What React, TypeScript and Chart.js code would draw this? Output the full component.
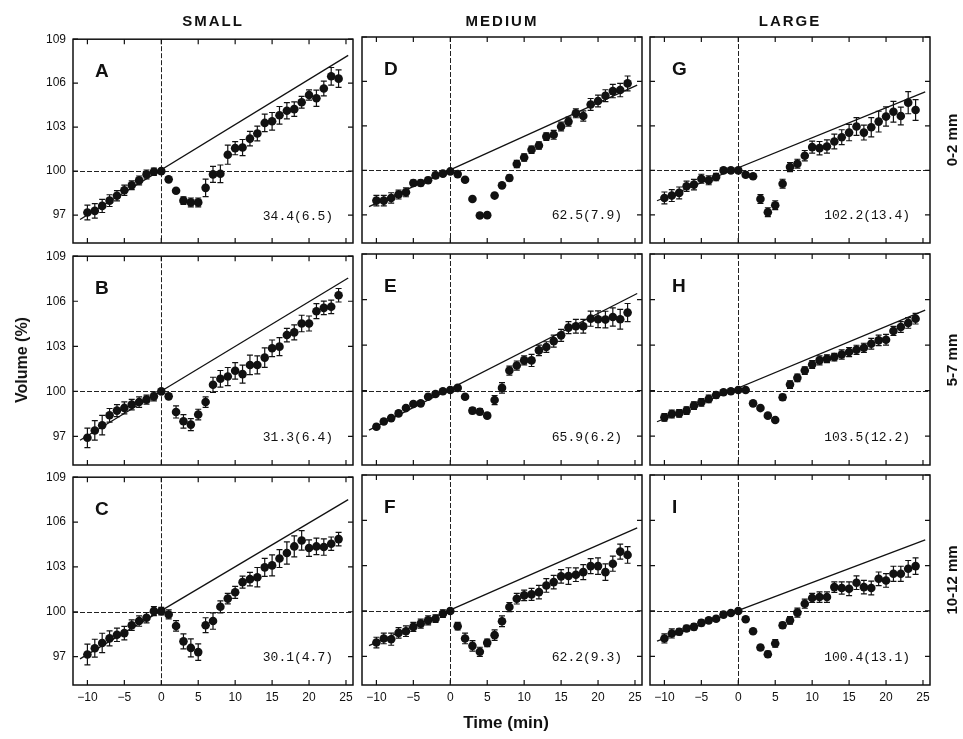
import React, { useEffect, useRef } from "react";
import { Chart, registerables } from "chart.js";

Chart.register(...registerables);

// ---------- data ----------
const minutes = [-10, -9, -8, -7, -6, -5, -4, -3, -2, -1, 0, 1, 2, 3, 4, 5, 6, 7, 8, 9, 10, 11, 12, 13, 14, 15, 16, 17, 18, 19, 20, 21, 22, 23, 24];
const xTickValues = [-10, -5, 0, 5, 10, 15, 20, 25];
const yTickValues = [97, 100, 103, 106, 109];
const sizeGroups = ["SMALL", "MEDIUM", "LARGE"];
const depthGroups = ["0-2 mm", "5-7 mm", "10-12 mm"];
const trendX = [-11, 25.3];

const volA = [97.18, 97.29, 97.63, 97.99, 98.32, 98.7, 99.04, 99.37, 99.78, 99.96, 100.0, 99.44, 98.66, 97.99, 97.87, 97.87, 98.86, 99.78, 99.82, 101.12, 101.57, 101.61, 102.22, 102.57, 103.29, 103.4, 103.81, 104.12, 104.23, 104.7, 105.19, 104.97, 105.64, 106.47, 106.31];
const errA = [0.5, 0.5, 0.45, 0.4, 0.35, 0.35, 0.3, 0.3, 0.3, 0.25, 0.1, 0.1, 0.1, 0.25, 0.3, 0.3, 0.6, 0.55, 0.6, 0.65, 0.45, 0.55, 0.5, 0.5, 0.6, 0.6, 0.6, 0.55, 0.5, 0.4, 0.35, 0.55, 0.5, 0.6, 0.6];
const trendA = [96.7, 107.9];

const volD = [97.96, 97.96, 98.14, 98.37, 98.52, 99.15, 99.15, 99.33, 99.66, 99.78, 99.93, 99.75, 99.37, 98.07, 96.96, 96.98, 98.3, 98.99, 99.49, 100.43, 100.87, 101.39, 101.68, 102.28, 102.4, 102.96, 103.29, 103.85, 103.67, 104.45, 104.68, 105.04, 105.35, 105.42, 105.87];
const errD = [0.35, 0.35, 0.35, 0.3, 0.3, 0.2, 0.2, 0.2, 0.2, 0.15, 0.1, 0.1, 0.1, 0.1, 0.15, 0.15, 0.1, 0.1, 0.2, 0.25, 0.25, 0.25, 0.25, 0.25, 0.3, 0.3, 0.3, 0.3, 0.35, 0.4, 0.4, 0.4, 0.45, 0.45, 0.5];
const trendD = [97.55, 105.75];

const volG = [98.14, 98.3, 98.48, 98.93, 99.04, 99.44, 99.33, 99.55, 100.0, 100.0, 100.0, 99.71, 99.6, 98.07, 97.18, 97.65, 99.1, 100.22, 100.45, 100.99, 101.57, 101.5, 101.61, 101.95, 102.24, 102.55, 102.96, 102.55, 102.91, 103.29, 103.63, 103.96, 103.67, 104.57, 104.07];
const errG = [0.4, 0.4, 0.4, 0.35, 0.35, 0.3, 0.3, 0.25, 0.15, 0.1, 0.1, 0.15, 0.15, 0.3, 0.3, 0.3, 0.3, 0.3, 0.3, 0.35, 0.4, 0.45, 0.45, 0.5, 0.5, 0.55, 0.6, 0.5, 0.65, 0.7, 0.65, 0.7, 0.6, 0.75, 0.7];
const trendG = [97.95, 105.3];

const volB = [96.91, 97.4, 97.75, 98.41, 98.72, 98.9, 99.12, 99.29, 99.45, 99.67, 100.0, 99.67, 98.63, 98.01, 97.79, 98.46, 99.29, 100.44, 100.84, 100.99, 101.37, 101.15, 101.76, 101.76, 102.25, 102.87, 102.98, 103.75, 103.93, 104.52, 104.52, 105.34, 105.56, 105.63, 106.4];
const errB = [0.65, 0.65, 0.65, 0.45, 0.4, 0.4, 0.35, 0.35, 0.3, 0.3, 0.1, 0.15, 0.4, 0.45, 0.4, 0.35, 0.35, 0.5, 0.55, 0.6, 0.55, 0.6, 0.65, 0.6, 0.65, 0.55, 0.6, 0.45, 0.5, 0.55, 0.5, 0.5, 0.45, 0.45, 0.45];
const trendB = [96.75, 107.55];

const volE = [97.62, 97.97, 98.19, 98.5, 98.85, 99.12, 99.16, 99.6, 99.78, 99.96, 100.04, 100.18, 99.6, 98.68, 98.61, 98.35, 99.38, 100.18, 101.32, 101.65, 101.99, 101.99, 102.65, 102.87, 103.26, 103.64, 104.15, 104.24, 104.24, 104.74, 104.7, 104.68, 104.85, 104.7, 105.14];
const errE = [0.15, 0.15, 0.15, 0.15, 0.15, 0.15, 0.15, 0.15, 0.1, 0.1, 0.1, 0.1, 0.1, 0.2, 0.2, 0.15, 0.3, 0.35, 0.3, 0.3, 0.3, 0.4, 0.35, 0.35, 0.4, 0.4, 0.4, 0.45, 0.45, 0.5, 0.55, 0.55, 0.6, 0.65, 0.6];
const trendE = [97.4, 106.4];

const volH = [98.24, 98.46, 98.5, 98.68, 99.01, 99.23, 99.45, 99.71, 99.89, 99.96, 100.04, 100.04, 99.16, 98.85, 98.35, 98.06, 99.56, 100.4, 100.84, 101.32, 101.72, 101.99, 102.1, 102.21, 102.38, 102.54, 102.69, 102.82, 103.09, 103.31, 103.35, 103.93, 104.19, 104.46, 104.74];
const errH = [0.25, 0.25, 0.25, 0.25, 0.25, 0.25, 0.25, 0.2, 0.15, 0.15, 0.1, 0.1, 0.1, 0.1, 0.1, 0.1, 0.2, 0.25, 0.25, 0.25, 0.25, 0.3, 0.25, 0.25, 0.3, 0.3, 0.3, 0.3, 0.35, 0.35, 0.35, 0.3, 0.35, 0.35, 0.35];
const trendH = [97.95, 105.3];

const volC = [97.14, 97.56, 97.91, 98.22, 98.46, 98.57, 99.1, 99.38, 99.6, 100.04, 100.04, 99.82, 99.05, 98.02, 97.58, 97.3, 99.1, 99.38, 100.33, 100.88, 101.3, 101.98, 102.18, 102.31, 102.97, 103.1, 103.56, 103.93, 104.37, 104.77, 104.26, 104.37, 104.33, 104.55, 104.86];
const errC = [0.7, 0.6, 0.65, 0.5, 0.45, 0.45, 0.35, 0.35, 0.35, 0.3, 0.25, 0.3, 0.35, 0.5, 0.6, 0.55, 0.5, 0.55, 0.4, 0.35, 0.4, 0.4, 0.45, 0.65, 0.6, 0.7, 0.6, 0.75, 0.7, 0.65, 0.55, 0.55, 0.55, 0.45, 0.45];
const trendC = [96.85, 107.5];

const volF = [97.91, 98.18, 98.13, 98.55, 98.66, 98.95, 99.16, 99.38, 99.49, 99.82, 100.0, 98.99, 98.18, 97.69, 97.3, 97.89, 98.4, 99.32, 100.26, 100.81, 101.03, 101.1, 101.25, 101.69, 101.91, 102.29, 102.31, 102.4, 102.57, 102.97, 102.97, 102.57, 103.13, 103.93, 103.71];
const errF = [0.35, 0.35, 0.4, 0.35, 0.35, 0.3, 0.3, 0.3, 0.25, 0.25, 0.15, 0.25, 0.35, 0.35, 0.3, 0.25, 0.35, 0.35, 0.3, 0.35, 0.35, 0.4, 0.45, 0.45, 0.45, 0.45, 0.55, 0.45, 0.5, 0.5, 0.55, 0.55, 0.5, 0.5, 0.55];
const trendF = [97.7, 105.5];

const volI = [98.18, 98.51, 98.62, 98.84, 98.95, 99.21, 99.38, 99.49, 99.76, 99.87, 100.0, 99.45, 98.66, 97.58, 97.14, 97.85, 99.05, 99.38, 99.89, 100.48, 100.86, 100.92, 100.92, 101.58, 101.52, 101.47, 101.87, 101.58, 101.52, 102.13, 102.02, 102.46, 102.46, 102.79, 102.97];
const errI = [0.3, 0.3, 0.2, 0.2, 0.2, 0.2, 0.15, 0.15, 0.15, 0.1, 0.1, 0.1, 0.1, 0.15, 0.2, 0.25, 0.2, 0.25, 0.3, 0.3, 0.3, 0.35, 0.35, 0.35, 0.4, 0.45, 0.45, 0.45, 0.45, 0.45, 0.45, 0.5, 0.5, 0.55, 0.55];
const trendI = [98.0, 104.7];

// row-major order: A D G / B E H / C F I
const panelLetters = ["A", "D", "G", "B", "E", "H", "C", "F", "I"];
const panelNotes = ["34.4(6.5)", "62.5(7.9)", "102.2(13.4)", "31.3(6.4)", "65.9(6.2)", "103.5(12.2)", "30.1(4.7)", "62.2(9.3)", "100.4(13.1)"];
const panelVolumes = [volA, volD, volG, volB, volE, volH, volC, volF, volI];
const panelErrors = [errA, errD, errG, errB, errE, errH, errC, errF, errI];
const panelTrends = [trendA, trendD, trendG, trendB, trendE, trendH, trendC, trendF, trendI];

// ---------- layout ----------
const COL_LEFT = [73, 362, 650];
const PANEL_W = 280;
const ROW_TOP = [37, 254, 475];
const ROW_H = [206, 211, 210];
const M_L = 60, M_T = 12, M_R = 10, M_B = 30;
const X_MIN = -11.95, X_MAX = 25.95, Y_MIN = 95.1, Y_MAX = 109;
const SANS = '"Liberation Sans", Arial, Helvetica, sans-serif';
const INK = "#111";

const decor = {
  id: "decor",
  beforeDatasetsDraw(chart: any) {
    const { ctx, chartArea: a, scales } = chart;
    const x = scales.x, y = scales.y;
    ctx.save();
    ctx.strokeStyle = "#222";
    ctx.lineWidth = 1;
    ctx.setLineDash([5, 2]);
    const x0 = Math.round(x.getPixelForValue(0)) + 0.5;
    ctx.beginPath(); ctx.moveTo(x0, a.top); ctx.lineTo(x0, a.bottom); ctx.stroke();
    const y0 = Math.round(y.getPixelForValue(100)) + 0.5;
    ctx.beginPath(); ctx.moveTo(a.left, y0); ctx.lineTo(a.right, y0); ctx.stroke();
    ctx.setLineDash([]);
    // error bars
    const ds = chart.data.datasets[0];
    const errs: number[] = ds.errors || [];
    ctx.strokeStyle = INK;
    ctx.lineWidth = 1.2;
    ds.data.forEach((pt: any, k: number) => {
      const e = errs[k];
      if (!e) return;
      const px = x.getPixelForValue(pt.x);
      const yt = y.getPixelForValue(pt.y + e);
      const yb = y.getPixelForValue(pt.y - e);
      ctx.beginPath();
      ctx.moveTo(px, yt); ctx.lineTo(px, yb);
      ctx.moveTo(px - 3, yt); ctx.lineTo(px + 3, yt);
      ctx.moveTo(px - 3, yb); ctx.lineTo(px + 3, yb);
      ctx.stroke();
    });
    ctx.restore();
  },
  afterDraw(chart: any, _args: any, opts: any) {
    const { ctx, chartArea: a, scales } = chart;
    const x = scales.x, y = scales.y;
    ctx.save();
    ctx.strokeStyle = INK;
    ctx.lineWidth = 1.5;
    ctx.strokeRect(a.left, a.top, a.right - a.left, a.bottom - a.top);
    ctx.lineWidth = 1.2;
    ctx.beginPath();
    xTickValues.forEach((v) => {
      const px = x.getPixelForValue(v);
      ctx.moveTo(px, a.bottom); ctx.lineTo(px, a.bottom - 5);
      ctx.moveTo(px, a.top); ctx.lineTo(px, a.top + 5);
    });
    yTickValues.forEach((v) => {
      const py = y.getPixelForValue(v);
      ctx.moveTo(a.left, py); ctx.lineTo(a.left + 5, py);
      ctx.moveTo(a.right, py); ctx.lineTo(a.right - 5, py);
    });
    ctx.stroke();
    ctx.fillStyle = INK;
    ctx.font = `bold 19px ${SANS}`;
    ctx.textBaseline = "middle";
    ctx.textAlign = "left";
    ctx.fillText(opts.letter, a.left + 22, a.top + 33);
    ctx.font = '13px "Liberation Mono", "DejaVu Sans Mono", monospace';
    ctx.textAlign = "right";
    ctx.fillText(opts.note, a.right - 20, y.getPixelForValue(97) + 1);
    ctx.restore();
  },
};

const fmtTick = (v: number) => (v < 0 ? "\u2212" + Math.abs(v) : String(v));

export default function App() {
  const refs = useRef<(HTMLCanvasElement | null)[]>([]);

  useEffect(() => {
    const charts = panelLetters.map((letter, i) => {
      const r = Math.floor(i / 3), c = i % 3;
      const canvas = refs.current[i] as HTMLCanvasElement;
      const vol = panelVolumes[i], err = panelErrors[i], trend = panelTrends[i];
      return new Chart(canvas, {
        type: "scatter",
        data: {
          datasets: [
            {
              data: minutes.map((m, k) => ({ x: m, y: vol[k] })),
              errors: err,
              backgroundColor: INK,
              borderColor: INK,
              borderWidth: 0,
              pointRadius: 4.3,
              pointHoverRadius: 4.3,
              showLine: false,
            } as any,
            {
              data: trendX.map((m, k) => ({ x: m, y: trend[k] })),
              showLine: true,
              borderColor: INK,
              borderWidth: 1.3,
              pointRadius: 0,
              pointHoverRadius: 0,
              fill: false,
            },
          ],
        },
        options: {
          animation: false,
          responsive: false,
          maintainAspectRatio: false,
          devicePixelRatio: 1,
          events: [],
          layout: { padding: { top: M_T, right: M_R, left: 0, bottom: 0 } },
          plugins: {
            legend: { display: false },
            tooltip: { enabled: false },
            decor: { letter, note: panelNotes[i] },
          } as any,
          scales: {
            x: {
              type: "linear",
              min: X_MIN,
              max: X_MAX,
              afterBuildTicks: (s: any) => { s.ticks = xTickValues.map((v) => ({ value: v })); },
              afterFit: (s: any) => { s.height = M_B; },
              grid: { display: false, drawTicks: false },
              border: { display: false },
              ticks: {
                display: r === 2,
                padding: 5,
                autoSkip: false,
                maxRotation: 0,
                color: INK,
                font: { family: SANS, size: 12 },
                callback: (v: any) => fmtTick(Number(v)),
              },
            },
            y: {
              type: "linear",
              min: Y_MIN,
              max: Y_MAX,
              afterBuildTicks: (s: any) => { s.ticks = yTickValues.map((v) => ({ value: v })); },
              afterFit: (s: any) => { s.width = M_L; },
              grid: { display: false, drawTicks: false },
              border: { display: false },
              ticks: {
                display: c === 0,
                padding: 7,
                autoSkip: false,
                color: INK,
                font: { family: SANS, size: 12 },
                callback: (v: any) => String(v),
              },
            },
          },
        },
        plugins: [decor as any],
      });
    });
    return () => charts.forEach((ch) => ch.destroy());
  }, []);

  const textBase: React.CSSProperties = {
    position: "absolute",
    fontFamily: SANS,
    fontWeight: "bold",
    color: INK,
    whiteSpace: "nowrap",
    lineHeight: 1,
  };

  return (
    <div style={{ position: "absolute", left: 0, top: 0, width: 963, height: 739, background: "#fff", overflow: "hidden" }}>
      {panelLetters.map((_, i) => {
        const r = Math.floor(i / 3), c = i % 3;
        const w = M_L + PANEL_W + M_R;
        const h = M_T + ROW_H[r] + M_B;
        return (
          <canvas
            key={i}
            ref={(el) => { refs.current[i] = el; }}
            width={w}
            height={h}
            style={{ position: "absolute", left: COL_LEFT[c] - M_L, top: ROW_TOP[r] - M_T, width: w, height: h }}
          />
        );
      })}
      {sizeGroups.map((t, c) => (
        <div key={t} style={{ ...textBase, fontSize: 15, letterSpacing: 2, left: COL_LEFT[c] + PANEL_W / 2, top: 20, transform: "translate(-50%, -50%)" }}>
          {t}
        </div>
      ))}
      {depthGroups.map((t, r) => (
        <div key={t} style={{ ...textBase, fontSize: 15, left: 951, top: ROW_TOP[r] + ROW_H[r] / 2, transform: "translate(-50%, -50%) rotate(-90deg)" }}>
          {t}
        </div>
      ))}
      <div style={{ ...textBase, fontSize: 16, left: 22, top: 360, transform: "translate(-50%, -50%) rotate(-90deg)" }}>Volume (%)</div>
      <div style={{ ...textBase, fontSize: 17, left: 506, top: 722, transform: "translate(-50%, -50%)" }}>Time (min)</div>
    </div>
  );
}
